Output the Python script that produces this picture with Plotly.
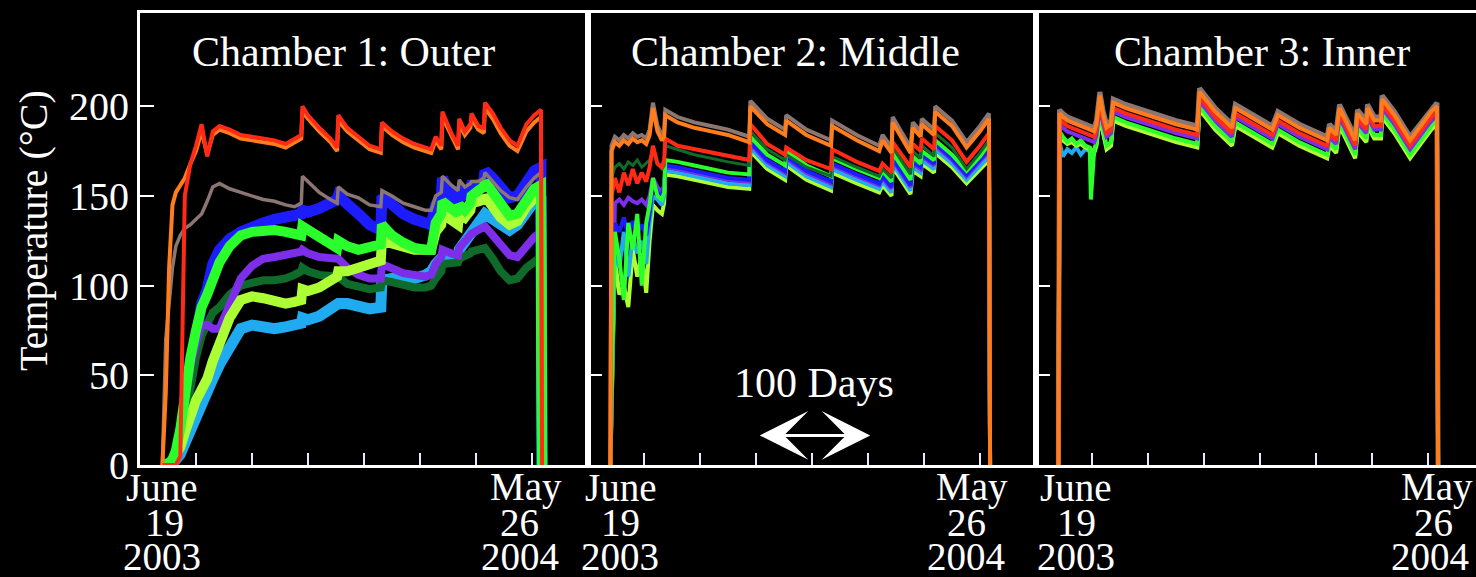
import plotly.graph_objects as go

# ---------------- data (days since 19 June 2003, temperature in deg C) ----------------
P1_DAYS = [0, 3, 6, 9, 12, 16, 20, 25, 30, 35, 40, 45, 51, 60, 70, 80, 90, 100, 110, 118,
           124, 125, 130, 140, 150, 156, 157, 165, 175, 185, 195, 196, 205, 215, 225, 235, 240, 244, 249, 250,
           258, 264, 265, 270, 275, 276, 282, 287, 288, 295, 302, 310, 317, 325, 332, 338, 339]

P1_RED = [0, 0, 0, 0, 0, 5, 150, 168, 178, 190, 172, 186, 189, 187, 184, 183, 182, 181, 179, 182,
          184, 200, 195, 188, 182, 177, 195, 188, 183, 178, 176, 191, 186, 182, 179, 177, 176, 183, 178, 197,
          185, 178, 193, 186, 190, 196, 189, 188, 202, 196, 188, 181, 178, 190, 195, 198, 0]
P1_ORANGE = [0, 40, 110, 145, 152, 156, 160, 168, 175, 186, 173, 184, 187, 185, 182, 181, 180, 179, 177, 180,
             182, 197, 193, 186, 180, 175, 192, 186, 181, 176, 174, 189, 184, 180, 177, 175, 174, 181, 176, 194,
             183, 176, 190, 184, 188, 193, 187, 185, 199, 193, 185, 178, 175, 186, 191, 194, 0]
P1_GRAY = [0, 70, 90, 110, 122, 128, 132, 134, 137, 140, 147, 155, 157, 154, 152, 150, 148, 147, 145, 144,
           146, 161, 158, 152, 148, 146, 155, 151, 149, 145, 144, 153, 150, 146, 144, 142, 142, 150, 152, 161,
           156, 153, 159, 155, 157, 158, 158, 160, 163, 158, 153, 149, 148, 155, 160, 163, 0]
P1_BLUE = [0, 0, 0, 2, 5, 12, 30, 55, 75, 90, 98, 112, 120, 126, 130, 133, 135, 137, 138, 139,
           140, 142, 141, 143, 146, 148, 150, 146, 140, 134, 131, 150, 145, 140, 137, 135, 134, 145, 150, 160,
           150, 146, 155, 151, 153, 156, 156, 158, 164, 160, 154, 149, 150, 158, 164, 166, 0]
P1_GREEN = [0, 0, 1, 3, 8, 20, 40, 60, 75, 88, 95, 105, 113, 122, 128, 130, 131, 131, 130, 129,
            128, 133, 131, 128, 124, 121, 125, 122, 120, 121, 123, 134, 128, 124, 121, 120, 120, 135, 140, 147,
            142, 140, 145, 142, 146, 150, 153, 155, 158, 152, 145, 139, 140, 148, 154, 156, 0]
P1_PURPLE = [0, 0, 0, 2, 6, 18, 35, 55, 68, 78, 78, 76, 76, 90, 104, 111, 115, 116, 117, 118,
             119, 120, 118, 116, 115, 114, 115, 110, 106, 104, 104, 112, 110, 107, 106, 105, 106, 112, 116, 120,
             118, 117, 121, 124, 127, 129, 131, 132, 133, 128, 122, 117, 116, 122, 127, 130, 0]
P1_DKGREEN = [0, 0, 0, 1, 4, 10, 25, 45, 60, 72, 80, 85, 88, 95, 100, 102, 103, 103, 104, 106,
              108, 110, 108, 106, 105, 104, 105, 101, 99, 98, 99, 103, 102, 100, 99, 99, 100, 104, 108, 112,
              112, 113, 115, 116, 118, 119, 120, 120, 121, 115, 108, 103, 104, 110, 114, 116, 0]
P1_LIME = [0, 0, 1, 3, 6, 10, 18, 28, 36, 42, 48, 58, 68, 82, 92, 94, 93, 92, 90, 91,
           92, 98, 97, 99, 103, 105, 108, 108, 110, 112, 114, 125, 123, 121, 120, 120, 120, 130, 134, 140,
           136, 134, 140, 138, 142, 146, 147, 148, 150, 144, 138, 134, 136, 144, 150, 153, 0]
P1_CYAN = [0, 0, 0, 1, 3, 6, 12, 20, 28, 34, 40, 48, 56, 66, 76, 78, 77, 76, 77, 78,
           79, 82, 81, 83, 87, 89, 90, 90, 88, 87, 88, 103, 104, 104, 104, 106, 108, 112, 114, 116,
           115, 116, 120, 124, 128, 130, 134, 137, 140, 137, 134, 131, 134, 142, 147, 150, 0]

P2_DAYS = [0, 1, 4, 8, 12, 16, 20, 24, 28, 32, 35, 38, 42, 46, 48, 49, 60, 75, 90, 105,
           124, 125, 140, 156, 157, 175, 197, 198, 220, 240, 243, 251, 252, 268, 270, 277, 278, 289, 290, 305,
           318, 330, 338, 339]
P2_GRAY = [0, 178, 183, 181, 184, 182, 185, 183, 184, 182, 187, 202, 189, 184, 186, 198, 194, 191, 189, 187,
           183, 203, 193, 187, 195, 187, 181, 192, 184, 178, 184, 177, 194, 177, 191, 186, 193, 187, 200, 192,
           180, 189, 196, 0]
P2_ORANGE = [0, 175, 180, 178, 181, 179, 182, 180, 181, 179, 184, 199, 186, 181, 183, 195, 191, 188, 186, 184,
             180, 200, 190, 184, 192, 184, 178, 189, 181, 175, 181, 174, 191, 174, 188, 183, 190, 184, 197, 189,
             177, 186, 193, 0]
P2_RED = [0, 150, 160, 152, 163, 156, 165, 157, 163, 158, 166, 178, 168, 166, 170, 182, 178, 176, 174, 172,
          170, 190, 179, 173, 177, 170, 165, 176, 169, 164, 168, 163, 180, 166, 179, 175, 182, 176, 189, 181,
          169, 178, 185, 0]
P2_DKGREEN = [0, 160, 166, 168, 165, 169, 167, 170, 166, 168, 170, 175, 168, 165, 167, 178, 176, 173, 171, 169,
              167, 186, 176, 170, 173, 166, 161, 172, 166, 161, 165, 160, 177, 162, 175, 171, 178, 172, 185, 177,
              165, 174, 181, 0]
P2_GREEN = [0, 40, 130, 115, 92, 135, 120, 140, 100, 135, 145, 160, 150, 148, 152, 170, 169, 167, 165, 163,
            162, 183, 173, 167, 175, 167, 161, 171, 165, 160, 164, 158, 174, 159, 172, 168, 175, 170, 181, 173,
            164, 172, 179, 0]
P2_BLUE = [0, 30, 135, 130, 138, 128, 136, 130, 134, 128, 140, 158, 152, 150, 155, 167, 166, 164, 162, 160,
           159, 180, 170, 164, 172, 164, 158, 168, 162, 157, 161, 155, 171, 156, 169, 166, 173, 168, 179, 171,
           162, 170, 176, 0]
P2_PURPLE = [0, 35, 146, 148, 145, 149, 147, 146, 148, 145, 150, 160, 155, 152, 156, 166, 165, 163, 161, 159,
             158, 179, 169, 163, 171, 163, 157, 167, 161, 156, 160, 154, 170, 155, 168, 165, 172, 167, 178, 170,
             161, 169, 175, 0]
P2_CYAN = [0, 30, 125, 110, 130, 105, 128, 118, 125, 112, 135, 150, 148, 145, 150, 164, 163, 161, 159, 157,
           156, 177, 167, 161, 169, 161, 155, 165, 159, 154, 158, 152, 168, 153, 166, 163, 170, 165, 176, 168,
           159, 167, 172, 0]
P2_LIME = [0, 25, 115, 95, 100, 88, 120, 105, 118, 96, 125, 145, 142, 140, 146, 162, 161, 159, 157, 155,
           154, 175, 165, 159, 167, 159, 153, 163, 157, 152, 156, 150, 166, 151, 164, 161, 168, 163, 174, 166,
           157, 165, 170, 0]

P3_DAYS = [0, 1, 4, 8, 12, 16, 20, 24, 28, 29, 32, 34, 37, 40, 43, 47, 49, 60, 75, 90,
           105, 124, 126, 140, 155, 158, 175, 191, 196, 215, 240, 242, 248, 251, 265, 267, 275, 276, 282, 288,
           289, 300, 314, 325, 333, 338, 339]
P3_GRAY = [0, 198, 196, 194, 193, 192, 191, 190, 189, 189, 188, 192, 208, 197, 190, 192, 204, 201, 198, 195,
           192, 189, 210, 199, 190, 201, 195, 189, 197, 190, 183, 190, 186, 201, 183, 198, 192, 201, 194, 194,
           206, 197, 183, 192, 199, 202, 0]
P3_ORANGE = [0, 196, 194, 192, 191, 190, 189, 188, 187, 187, 186, 190, 206, 195, 188, 190, 202, 199, 196, 193,
             190, 187, 208, 197, 188, 199, 193, 187, 195, 188, 181, 188, 184, 199, 181, 196, 190, 199, 192, 192,
             204, 195, 181, 190, 197, 200, 0]
P3_RED = [0, 193, 191, 189, 188, 187, 186, 185, 184, 184, 183, 187, 203, 192, 185, 187, 199, 196, 193, 190,
          187, 184, 205, 194, 185, 196, 190, 184, 192, 185, 178, 185, 181, 196, 178, 193, 187, 196, 189, 189,
          201, 192, 178, 187, 194, 197, 0]
P3_PURPLE = [0, 190, 188, 186, 185, 184, 183, 182, 181, 181, 180, 184, 200, 190, 183, 185, 197, 194, 191, 188,
             185, 182, 203, 192, 183, 194, 188, 182, 190, 183, 176, 183, 179, 194, 176, 191, 185, 194, 187, 187,
             199, 190, 176, 185, 192, 195, 0]
P3_CYAN = [0, 180, 172, 176, 174, 177, 173, 176, 175, 175, 175, 179, 195, 185, 177, 179, 193, 190, 187, 184,
           181, 178, 199, 188, 179, 190, 184, 178, 186, 179, 172, 179, 175, 190, 172, 187, 181, 190, 183, 183,
           195, 186, 172, 181, 188, 191, 0]
P3_GREEN = [0, 186, 183, 180, 182, 179, 181, 178, 177, 148, 176, 180, 196, 186, 178, 180, 194, 191, 188, 185,
            182, 179, 200, 189, 180, 191, 185, 179, 187, 180, 173, 180, 176, 191, 173, 188, 182, 191, 184, 184,
            196, 187, 173, 182, 189, 192, 0]
P3_LIME = [0, 184, 181, 179, 180, 178, 179, 177, 176, 176, 174, 178, 194, 184, 176, 178, 192, 189, 186, 183,
           180, 177, 198, 187, 178, 189, 183, 177, 185, 178, 171, 178, 174, 189, 171, 186, 180, 189, 182, 182,
           194, 185, 171, 180, 187, 190, 0]

PANEL_TITLES = ["Chamber 1: Outer", "Chamber 2: Middle", "Chamber 3: Inner"]
Y_TICKS = [0, 50, 100, 150, 200]
START_LABEL = ["June", "19", "2003"]
END_LABEL = ["May", "26", "2004"]
SCALE_TEXT = "100 Days"
SCALE_DAYS = 100
Y_TITLE = "Temperature (°C)"

# ---------------- styles ----------------
C = dict(red="#ff2b16", orange="#ff7d1c", gray="#8c7672", blue="#1c1cff", green="#2bff2b",
         purple="#7c2ee8", dkgreen="#0f6b2a", lime="#adff35", cyan="#20aaf0")
FONT = "Liberation Serif, Times New Roman, serif"

W, H = 1476, 577
L, R, T, B = 140, 0, 13, 112
PW = W - L - R
PX_PER_DAY = 1.12
XMIN = -20
panel_px = [(140, 588), (588, 1036), (1036, 1476)]
doms = [((a - L) / PW, (b - L) / PW) for a, b in panel_px]

fig = go.Figure()

def add(days, vals, color, width, k):
    assert len(days) == len(vals), (len(days), len(vals))
    xa = "x" if k == 1 else f"x{k}"
    ya = "y" if k == 1 else f"y{k}"
    fig.add_trace(go.Scatter(x=days, y=vals, mode="lines", xaxis=xa, yaxis=ya,
                             line=dict(color=color, width=width), showlegend=False,
                             hoverinfo="skip"))

# panel 1 (noisy wide bands)
add(P1_DAYS, P1_BLUE, C["blue"], 11, 1)
add(P1_DAYS, P1_CYAN, C["cyan"], 11, 1)
add(P1_DAYS, P1_DKGREEN, C["dkgreen"], 8, 1)
add(P1_DAYS, P1_PURPLE, C["purple"], 8, 1)
add(P1_DAYS, P1_LIME, C["lime"], 10, 1)
add(P1_DAYS, P1_GREEN, C["green"], 10, 1)
add(P1_DAYS, P1_GRAY, C["gray"], 3.5, 1)
add(P1_DAYS, P1_ORANGE, C["orange"], 4, 1)
add(P1_DAYS, P1_RED, C["red"], 4, 1)

# panel 2
add(P2_DAYS, P2_GRAY, C["gray"], 4, 2)
add(P2_DAYS, P2_LIME, C["lime"], 4, 2)
add(P2_DAYS, P2_CYAN, C["cyan"], 4, 2)
add(P2_DAYS, P2_PURPLE, C["purple"], 4, 2)
add(P2_DAYS, P2_BLUE, C["blue"], 4, 2)
add(P2_DAYS, P2_GREEN, C["green"], 4, 2)
add(P2_DAYS, P2_DKGREEN, C["dkgreen"], 3, 2)
add(P2_DAYS, P2_RED, C["red"], 4, 2)
add(P2_DAYS, P2_ORANGE, C["orange"], 4, 2)

# panel 3
add(P3_DAYS, P3_GRAY, C["gray"], 5, 3)
add(P3_DAYS, P3_CYAN, C["cyan"], 4, 3)
add(P3_DAYS, P3_LIME, C["lime"], 4, 3)
add(P3_DAYS, P3_GREEN, C["green"], 4, 3)
add(P3_DAYS, P3_PURPLE, C["purple"], 4, 3)
add(P3_DAYS, P3_RED, C["red"], 4, 3)
add(P3_DAYS, P3_ORANGE, C["orange"], 4, 3)

layout = dict(
    width=W, height=H, paper_bgcolor="black", plot_bgcolor="black",
    margin=dict(l=L, r=R, t=T, b=B), showlegend=False,
    font=dict(family=FONT, color="white", size=40),
)
for k, (d0, d1) in enumerate(doms, start=1):
    sfx = "" if k == 1 else str(k)
    width_px = panel_px[k - 1][1] - panel_px[k - 1][0]
    layout["xaxis" + sfx] = dict(
        domain=[d0, d1], range=[XMIN, XMIN + width_px / PX_PER_DAY], anchor="y" + sfx,
        showgrid=False, zeroline=False, showline=True, linecolor="white", linewidth=3,
        mirror=True, ticks="inside", tick0=30, dtick=50, ticklen=12, tickwidth=2,
        tickcolor="#e8e8ff", showticklabels=False, fixedrange=True)
    layout["yaxis" + sfx] = dict(
        domain=[0, 1], range=[0, 252], anchor="x" + sfx,
        showgrid=False, zeroline=False, showline=True, linecolor="white", linewidth=3,
        mirror=(k != 3), ticks="inside", tickvals=Y_TICKS, ticklen=14, tickwidth=2,
        tickcolor="white", showticklabels=(k == 1),
        tickfont=dict(family=FONT, size=40, color="white"), fixedrange=True)
# faint blue mirror ticks at the right edge of panels 1 and 2
for k, base in ((4, ""), (5, "2")):
    layout[f"yaxis{k}"] = dict(
        overlaying="y" + base, anchor="x" + base, side="right", range=[0, 252],
        tickvals=Y_TICKS, ticks="inside", ticklen=6, tickwidth=2, tickcolor="#2a2ad0",
        showticklabels=False, showgrid=False, zeroline=False, showline=False)

fig.update_layout(**layout)

ann = []
def ppx(px):
    return (px - L) / PW
def ppy(py):
    return (H - B - py) / (H - B - T)

title_px = [343, 795, 1262]
for t, cx in zip(PANEL_TITLES, title_px):
    ann.append(dict(text=t, xref="paper", yref="paper", x=ppx(cx), y=ppy(52),
                    xanchor="center", yanchor="middle", showarrow=False,
                    font=dict(family=FONT, size=42, color="white")))

line_py = [487, 522, 556]
start_cx = [[162, 164, 162], [621, 620, 620], [1076, 1076, 1076]]
end_cx = [[526, 519, 520], [972, 967, 966], [1437, 1433, 1430]]
for k in range(3):
    for i in range(3):
        ann.append(dict(text=START_LABEL[i], xref="paper", yref="paper",
                        x=ppx(start_cx[k][i]), y=ppy(line_py[i]), xanchor="center",
                        yanchor="middle", showarrow=False,
                        font=dict(family=FONT, size=39, color="white")))
        ann.append(dict(text=END_LABEL[i], xref="paper", yref="paper",
                        x=ppx(end_cx[k][i]), y=ppy(line_py[i]), xanchor="center",
                        yanchor="middle", showarrow=False,
                        font=dict(family=FONT, size=39, color="white")))

# y-axis title
ann.append(dict(text=Y_TITLE, xref="paper", yref="paper", x=ppx(33), y=ppy(230),
                xanchor="center", yanchor="middle", textangle=-90, showarrow=False,
                font=dict(family=FONT, size=40, color="white")))

# 100-day scale bar in panel 2
a0 = 132
ann.append(dict(text=SCALE_TEXT, xref="x2", yref="y2", x=a0 + SCALE_DAYS / 2, y=45.5,
                xanchor="center", yanchor="middle", showarrow=False,
                font=dict(family=FONT, size=42, color="white")))
ann.append(dict(text="", xref="x2", yref="y2", axref="x2", ayref="y2",
                x=a0 + SCALE_DAYS, y=16.5, ax=a0, ay=16.5, showarrow=True,
                arrowhead=3, arrowside="end+start", arrowsize=2.7, arrowwidth=3,
                arrowcolor="white", standoff=0, startstandoff=0))

fig.update_layout(annotations=ann)
fig.write_html(
    "out.html",
    config={"displayModeBar": False},
    post_script="document.body.style.margin='0';document.body.style.padding='0';"
                "document.body.style.background='black';"
                "document.documentElement.style.overflow='hidden';",
)
